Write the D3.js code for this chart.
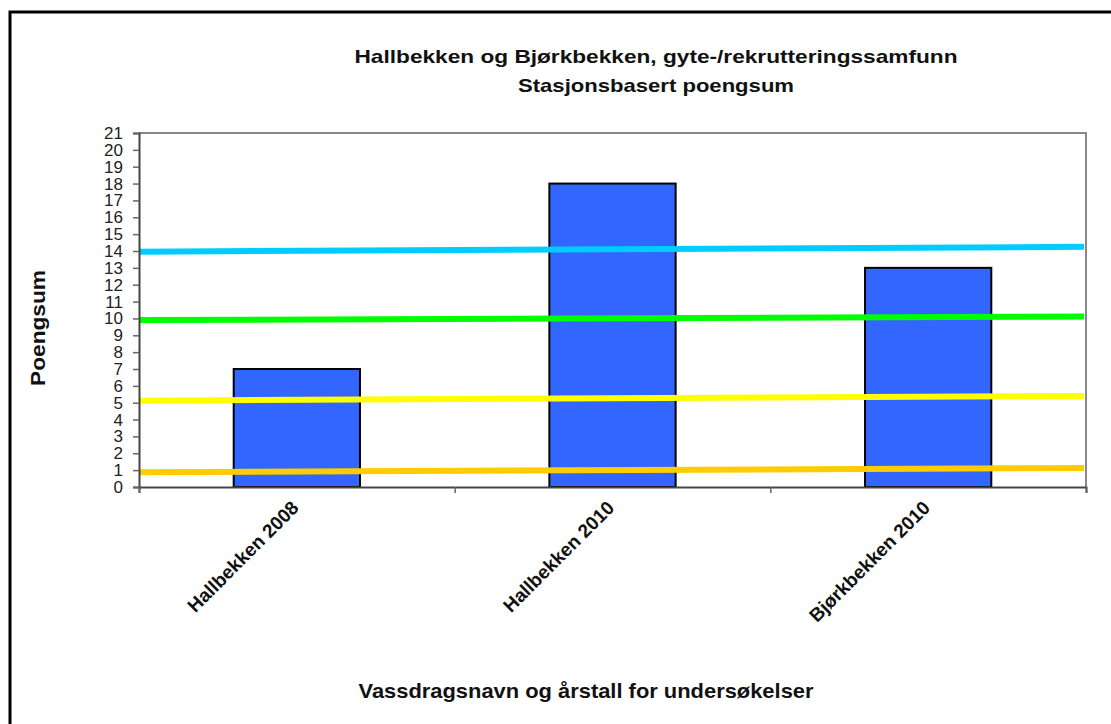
<!DOCTYPE html>
<html>
<head>
<meta charset="utf-8">
<script src="https://cdn.jsdelivr.net/npm/d3@7"></script>
<style>
  body { margin: 0; background: #fff; }
  svg { display: block; font-family: "Liberation Sans", Arial, sans-serif; }
</style>
</head>
<body>
<svg id="chart" width="1111" height="724"></svg>
<script>
// data
const categories = ["Hallbekken 2008", "Hallbekken 2010", "Bjørkbekken 2010"];
const scores = [7, 18, 13];
// class limit lines (start value, end value), drawn across the plot
const lineNames = ["cyan", "green", "yellow", "orange"];
const lineStart = [13.96, 9.9, 5.12, 0.87];
const lineEnd = [14.25, 10.12, 5.4, 1.13];
const lineColours = ["#00ccff", "#00ff00", "#ffff00", "#ffcc00"];
const yTicks = d3.range(0, 22);

const titleLines = ["Hallbekken og Bjørkbekken, gyte-/rekrutteringssamfunn", "Stasjonsbasert poengsum"];
const xTitle = "Vassdragsnavn og årstall for undersøkelser";
const yTitle = "Poengsum";

var svg = d3.select("#chart");

// outer frame (right and bottom run off the picture)
svg.append("rect")
	.attr("x", 10).attr("y", 12)
	.attr("width", 1200).attr("height", 800)
	.attr("fill", "none")
	.attr("stroke", "#000")
	.attr("stroke-width", 3);

var plot = { left: 139, right: 1086, top: 133, bottom: 487 };

var x = d3.scaleBand()
	.domain(categories)
	.range([plot.left, plot.right])
	.paddingInner(0.6)
	.paddingOuter(0.3);

// continuous x across the categories, for the limit lines
var xc = d3.scaleLinear()
	.domain([0, categories.length])
	.range([plot.left, plot.right]);

var y = d3.scaleLinear()
	.domain([0, 21])
	.range([plot.bottom, plot.top]);

// plot area border (top + right, grey)
svg.append("path")
	.attr("d", `M${plot.left},${plot.top}H${plot.right}V${plot.bottom}`)
	.attr("fill", "none")
	.attr("stroke", "#888")
	.attr("stroke-width", 2);

// bars
svg.append("g")
	.selectAll("rect")
	.data(scores)
	.enter()
	.append("rect")
	.attr("x", (d, i) => x(categories[i]))
	.attr("y", d => y(d))
	.attr("width", x.bandwidth())
	.attr("height", d => y(0) - y(d))
	.attr("fill", "#3366ff")
	.attr("stroke", "#000")
	.attr("stroke-width", 2);

// limit lines
svg.append("g")
	.selectAll("line")
	.data(lineNames)
	.enter()
	.append("line")
	.attr("x1", xc(0))
	.attr("x2", xc(categories.length) - 2)
	.attr("y1", (d, i) => y(lineStart[i]))
	.attr("y2", (d, i) => y(lineEnd[i]))
	.attr("stroke", (d, i) => lineColours[i])
	.attr("stroke-width", 6);

// y axis
var yAxis = svg.append("g")
	.attr("transform", `translate(${plot.left},0)`)
	.call(d3.axisLeft(y).tickValues(yTicks).tickSize(6).tickPadding(10));
yAxis.select(".domain").attr("stroke", "#444").attr("stroke-width", 2);
yAxis.selectAll(".tick line").attr("stroke", "#666").attr("stroke-width", 1.5);
yAxis.selectAll(".tick text")
	.attr("font-size", 17)
	.attr("font-family", "Liberation Sans, Arial, sans-serif")
	.attr("fill", "#222");

// x axis: baseline with ticks at the category boundaries
var xAxis = svg.append("g")
	.attr("transform", `translate(0,${plot.bottom})`)
	.call(d3.axisBottom(xc).tickValues(d3.range(0, categories.length + 1)).tickSize(6).tickFormat(""));
xAxis.select(".domain").attr("stroke", "#444").attr("stroke-width", 2);
xAxis.selectAll(".tick line").attr("stroke", "#666").attr("stroke-width", 1.5);

// category labels, rotated
svg.append("g")
	.selectAll("text")
	.data(categories)
	.enter()
	.append("text")
	.attr("transform", d => `translate(${x(d) + x.bandwidth() / 2 + 3},${plot.bottom + 22}) rotate(-45)`)
	.attr("text-anchor", "end")
	.attr("font-size", 19)
	.attr("font-weight", "bold")
	.attr("fill", "#111")
	.text(d => d);

// titles (the original is a little wider than its height suggests)
var titleWidths = [603, 276];
svg.append("g")
	.selectAll("text")
	.data(titleLines)
	.enter()
	.append("text")
	.attr("x", 656)
	.attr("y", (d, i) => 63 + i * 29)
	.attr("text-anchor", "middle")
	.attr("font-size", 19)
	.attr("font-weight", "bold")
	.attr("fill", "#111")
	.attr("textLength", (d, i) => titleWidths[i])
	.attr("lengthAdjust", "spacingAndGlyphs")
	.text(d => d);

svg.append("text")
	.attr("x", 586)
	.attr("y", 698)
	.attr("text-anchor", "middle")
	.attr("font-size", 21)
	.attr("font-weight", "bold")
	.attr("fill", "#111")
	.attr("textLength", 455)
	.attr("lengthAdjust", "spacingAndGlyphs")
	.text(xTitle);

svg.append("text")
	.attr("transform", "translate(45,328) rotate(-90)")
	.attr("text-anchor", "middle")
	.attr("font-size", 20)
	.attr("font-weight", "bold")
	.attr("fill", "#111")
	.attr("textLength", 116)
	.attr("lengthAdjust", "spacingAndGlyphs")
	.text(yTitle);
</script>
</body>
</html>
